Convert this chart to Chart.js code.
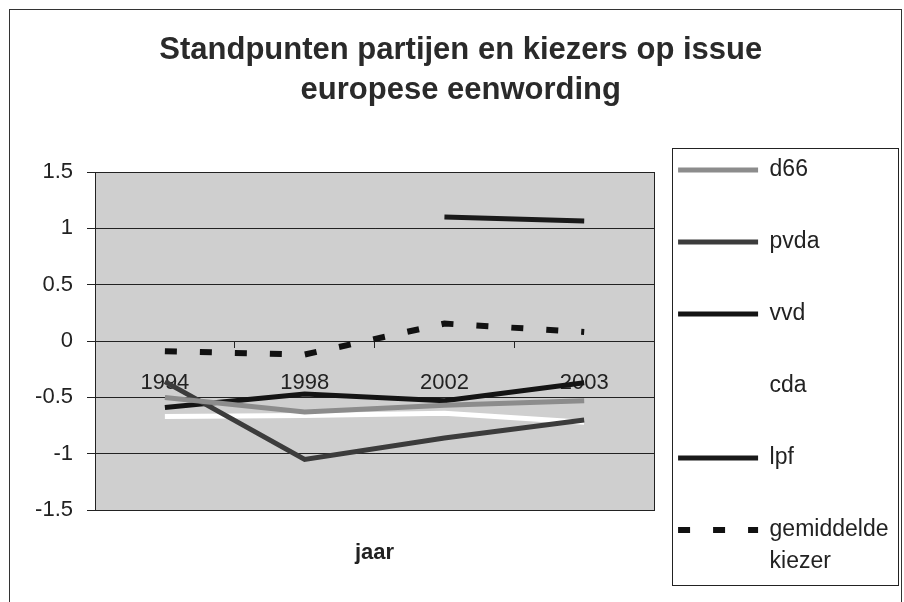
<!DOCTYPE html>
<html>
<head>
<meta charset="utf-8">
<title>Standpunten partijen en kiezers</title>
<script src="https://cdn.jsdelivr.net/npm/chart.js@4.4.1/dist/chart.umd.min.js"></script>
<style>
  html, body { margin: 0; padding: 0; background: #fff; }
</style>
</head>
<body>
<canvas id="issueChart" width="904" height="602"></canvas>
<script>
// Years on the category axis
const years = ['1994', '1998', '2002', '2003'];

// Positions per party / voters
const d66 = [-0.5, -0.63, -0.57, -0.53];
const pvda = [-0.36, -1.05, -0.86, -0.70];
const vvd = [-0.59, -0.47, -0.53, -0.37];
const cda = [-0.67, -0.66, -0.64, -0.72];
const lpf = [null, null, 1.1, 1.065];
const kiezer = [-0.09, -0.12, 0.155, 0.08];

const yTickValues = [-1.5, -1, -0.5, 0, 0.5, 1, 1.5];

const FONT = 'Liberation Sans, Arial, Helvetica, sans-serif';
const INK = '#222';

// gray plot area, plot border and the outer frame of the chart
const plotBackground = {
    id: 'plotBackground',
    beforeDraw(chart) {
        const {ctx, chartArea: a} = chart;
        ctx.save();
        ctx.fillStyle = '#fff';
        ctx.fillRect(0, 0, chart.width, chart.height);
        ctx.fillStyle = '#cfcfcf';
        ctx.fillRect(a.left, a.top, a.right - a.left, a.bottom - a.top);
        ctx.strokeStyle = INK;
        ctx.lineWidth = 1;
        ctx.strokeRect(Math.round(a.left) + 0.5, Math.round(a.top) + 0.5,
            Math.round(a.right - a.left), Math.round(a.bottom - a.top));
        ctx.strokeStyle = '#333';
        ctx.strokeRect(9.5, 9.5, chart.width - 12, chart.height + 10);
        ctx.restore();
    }
};

// Excel style box round the legend
const legendFrame = {
    id: 'legendFrame',
    afterDraw(chart) {
        const boxes = chart.legend.legendHitBoxes;
        if (!boxes || !boxes.length) return;
        const first = boxes[0];
        const last = boxes[boxes.length - 1];
        const left = Math.round(first.left - 6) + 0.5;
        const top = Math.round(first.top - 10.5) + 0.5;
        const right = Math.round(chart.legend.right - 1) + 0.5;
        const bottom = Math.round(last.top + last.height + 18.5) + 0.5;
        const ctx = chart.ctx;
        ctx.save();
        ctx.strokeStyle = INK;
        ctx.lineWidth = 1;
        ctx.strokeRect(left, top, right - left, bottom - top);
        ctx.restore();
    }
};

let line = (label, data, color, extra) => Object.assign({
    label: label,
    data: data,
    borderColor: color,
    backgroundColor: color,
    borderWidth: 5,
    pointRadius: 0,
    pointHoverRadius: 0,
    tension: 0,
    fill: false,
}, extra || {});

let issueChart = new Chart(document.getElementById('issueChart').getContext('2d'), {
    type: 'line',
    data: {
        labels: years,
        datasets: [
            line('d66', d66, '#8c8c8c'),
            line('pvda', pvda, '#3c3c3c'),
            line('vvd', vvd, '#141414'),
            line('cda', cda, '#ffffff'),
            line('lpf', lpf, '#1a1a1a'),
            line('gemiddelde kiezer', kiezer, '#111111', {borderWidth: 6, borderDash: [12, 23]}),
        ]
    },
    plugins: [plotBackground, legendFrame],
    options: {
        responsive: false,
        animation: false,
        layout: {
            padding: {left: 23, right: 5.5, top: 0, bottom: 11.5}
        },
        plugins: {
            title: {
                display: true,
                text: ['Standpunten partijen en kiezers op issue', 'europese eenwording'],
                color: '#2a2a2a',
                font: {family: FONT, size: 31, weight: 'bold', lineHeight: '40px'},
                padding: {top: 30, bottom: 62},
            },
            legend: {
                display: true,
                position: 'right',
                align: 'end',
                weight: 3000,
                maxWidth: 260,
                labels: {
                    color: INK,
                    usePointStyle: true,
                    pointStyle: 'line',
                    pointStyleWidth: 80,
                    padding: 24,
                    font: {family: FONT, size: 23, lineHeight: '16px'},
                    // every entry takes three text rows, the long one wraps onto the third
                    generateLabels: (chart) => {
                        const items = Chart.defaults.plugins.legend.labels.generateLabels(chart);
                        return items.map((item) => {
                            const ds = chart.data.datasets[item.datasetIndex];
                            const words = item.text.split(' ');
                            item.text = words.length > 1 ? [words[0], '', words[1]] : [words[0], '', ''];
                            item.lineDash = ds.borderDash || [];
                            item.lineWidth = ds.borderWidth;
                            item.strokeStyle = ds.borderColor;
                            return item;
                        });
                    }
                }
            },
            tooltip: {enabled: false},
        },
        scales: {
            x: {
                type: 'category',
                position: {y: 0},
                offset: true,
                grid: {
                    display: true,
                    drawOnChartArea: false,
                    offset: true,
                    tickLength: 6,
                    color: INK,
                },
                border: {display: true, color: INK},
                ticks: {
                    color: INK,
                    font: {family: FONT, size: 22},
                    padding: 23,
                    maxRotation: 0,
                    autoSkip: false,
                }
            },
            xt: {
                type: 'category',
                position: 'bottom',
                grid: {display: false},
                border: {display: false},
                ticks: {display: false},
                title: {
                    display: true,
                    text: 'jaar',
                    color: INK,
                    font: {family: FONT, size: 22, weight: 'bold'},
                    padding: {top: 22, bottom: 24},
                }
            },
            y: {
                position: 'left',
                min: -1.5,
                max: 1.5,
                afterBuildTicks: (scale) => {
                    scale.ticks = yTickValues.map((v) => ({value: v}));
                },
                afterFit: (scale) => {
                    scale.width = 72;
                },
                grid: {
                    color: INK,
                    lineWidth: 1,
                    tickLength: 8,
                },
                border: {display: true, color: INK},
                ticks: {
                    color: INK,
                    font: {family: FONT, size: 22},
                    padding: 14,
                    callback: (value) => String(value),
                }
            }
        }
    }
});
</script>
</body>
</html>
